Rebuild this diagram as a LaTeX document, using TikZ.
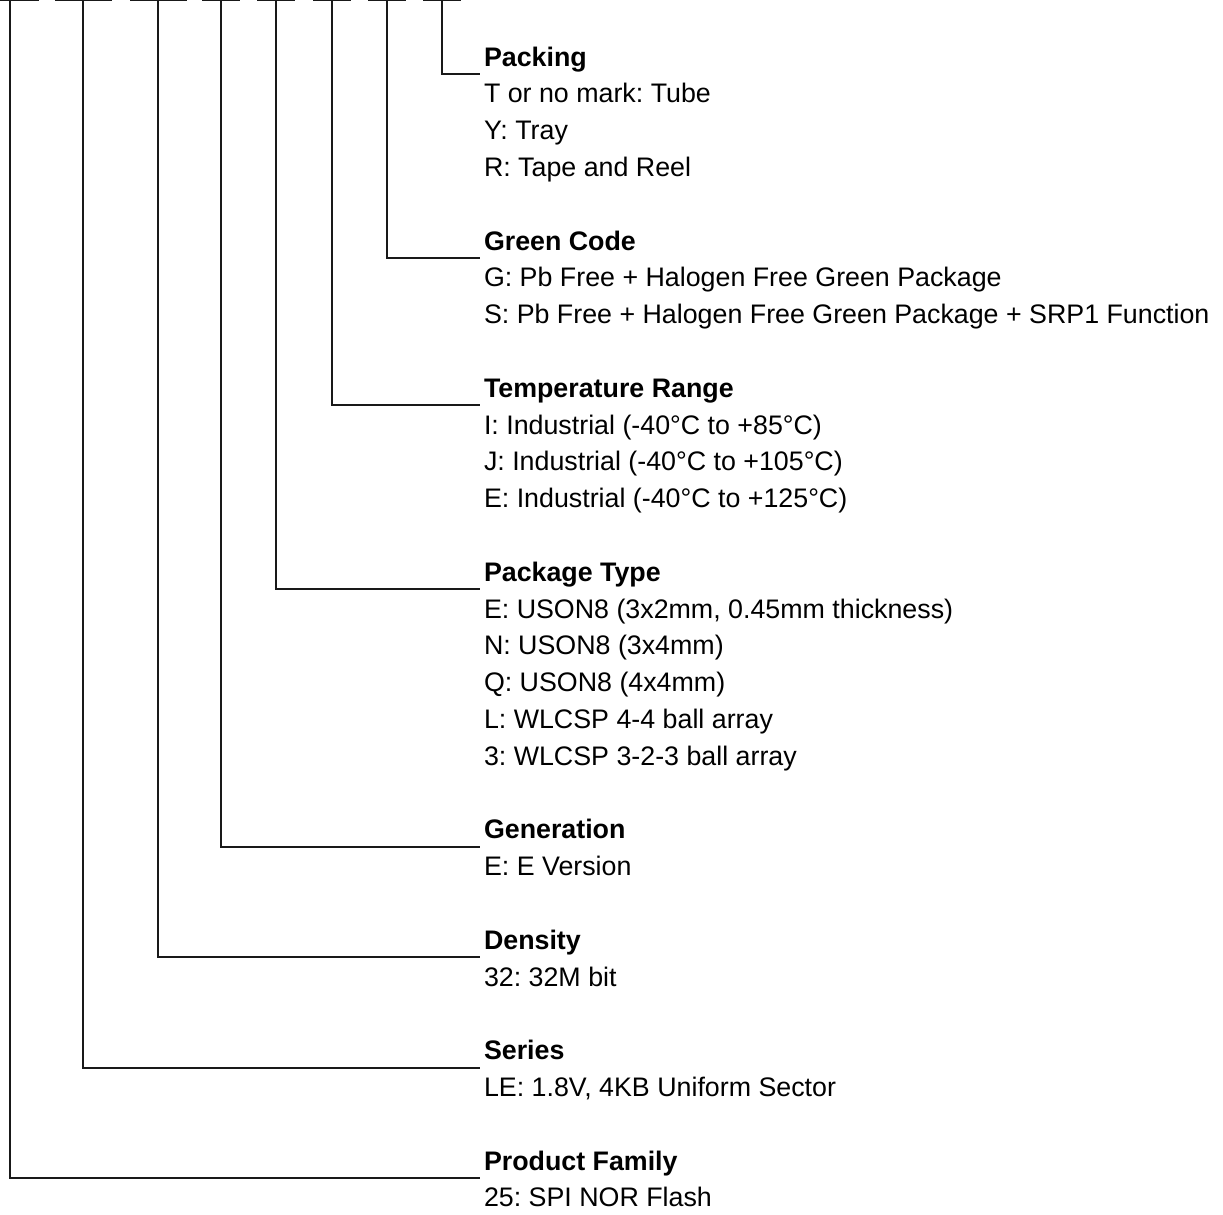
\documentclass[tikz,border=0pt]{standalone}
\usepackage{fontspec}
\setmainfont{Liberation Sans}
\usetikzlibrary{positioning}
\frenchspacing

\tikzset{
  wire/.style={line width=1pt, black!90},
  head/.style={font=\fontsize{13.4}{18.4}\selectfont\bfseries, inner sep=0pt, outer sep=0pt, anchor=base west},
  detail/.style={font=\fontsize{13.4}{18.4}\selectfont, inner sep=0pt, outer sep=0pt, align=left}
}

\begin{document}
\begin{tikzpicture}[x=0.5pt, y=0.5pt]
    \useasboundingbox (0,-1215) rectangle (1223,0);
    % marks of the part number
    \foreach \cx/\w in {10/57, 83/57, 158/57, 221/38, 276/38, 332/38, 387/38, 442/38}
      \draw[wire] (\cx-\w/2,0) -- (\cx+\w/2,0);
    \coordinate (tfam) at (10,0);
    \coordinate (tser) at (83,0);
    \coordinate (tdens) at (158,0);
    \coordinate (tgen) at (221,0);
    \coordinate (tpkg) at (276,0);
    \coordinate (ttemp) at (332,0);
    \coordinate (tgreen) at (387,0);
    \coordinate (tpack) at (442,0);

    % fields, one below the other
    \node[head] (hpack) at (484,-66) {\strut Packing};
    \node[detail, below right=0pt of hpack.south west] (dpack)
      {\strut T or no mark: Tube\\Y: Tray\\R: Tape and Reel\strut};
    \node[head, below right=18.4pt and 0pt of dpack.south west] (hgreen) {\strut Green Code};
    \node[detail, below right=0pt of hgreen.south west] (dgreen)
      {\strut G: Pb Free + Halogen Free Green Package\\S: Pb Free + Halogen Free Green Package + SRP1 Function\strut};
    \node[head, below right=18.4pt and 0pt of dgreen.south west] (htemp) {\strut Temperature Range};
    \node[detail, below right=0pt of htemp.south west] (dtemp)
      {\strut I: Industrial (-40°C to +85°C)\\J: Industrial (-40°C to +105°C)\\E: Industrial (-40°C to +125°C)\strut};
    \node[head, below right=18.4pt and 0pt of dtemp.south west] (hpkg) {\strut Package Type};
    \node[detail, below right=0pt of hpkg.south west] (dpkg)
      {\strut E: USON8 (3x2mm, 0.45mm thickness)\\N: USON8 (3x4mm)\\Q: USON8 (4x4mm)\\L: WLCSP 4-4 ball array\\3: WLCSP 3-2-3 ball array\strut};
    \node[head, below right=18.4pt and 0pt of dpkg.south west] (hgen) {\strut Generation};
    \node[detail, below right=0pt of hgen.south west] (dgen) {\strut E: E Version\strut};
    \node[head, below right=18.4pt and 0pt of dgen.south west] (hdens) {\strut Density};
    \node[detail, below right=0pt of hdens.south west] (ddens) {\strut 32: 32M bit\strut};
    \node[head, below right=18.4pt and 0pt of ddens.south west] (hser) {\strut Series};
    \node[detail, below right=0pt of hser.south west] (dser) {\strut LE: 1.8V, 4KB Uniform Sector\strut};
    \node[head, below right=18.4pt and 0pt of dser.south west] (hfam) {\strut Product Family};
    \node[detail, below right=0pt of hfam.south west] (dfam) {\strut 25: SPI NOR Flash\strut};

    % leaders
    \draw[wire] (tpack) |- ([xshift=-2pt, yshift=-4pt]hpack.base west);
    \draw[wire] (tgreen) |- ([xshift=-2pt, yshift=-4pt]hgreen.base west);
    \draw[wire] (ttemp) |- ([xshift=-2pt, yshift=-4pt]htemp.base west);
    \draw[wire] (tpkg) |- ([xshift=-2pt, yshift=-4pt]hpkg.base west);
    \draw[wire] (tgen) |- ([xshift=-2pt, yshift=-4pt]hgen.base west);
    \draw[wire] (tdens) |- ([xshift=-2pt, yshift=-4pt]hdens.base west);
    \draw[wire] (tser) |- ([xshift=-2pt, yshift=-4pt]hser.base west);
    \draw[wire] (tfam) |- ([xshift=-2pt, yshift=-4pt]hfam.base west);
\end{tikzpicture}
\end{document}
